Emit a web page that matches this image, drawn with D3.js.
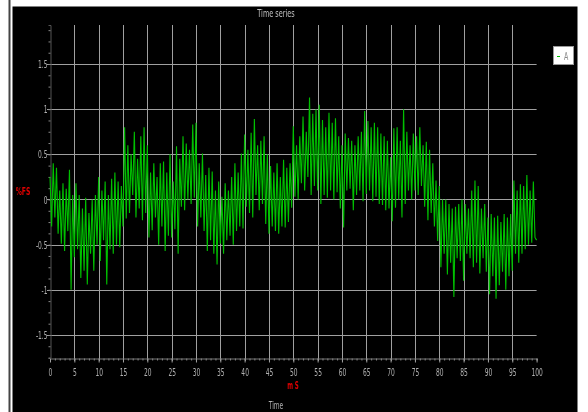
<!DOCTYPE html>
<html><head><meta charset="utf-8">
<script src="https://cdn.jsdelivr.net/npm/d3@7/dist/d3.min.js"></script>
<style>
html,body{margin:0;padding:0;background:#fff;}
svg{display:block;}
text{font-family:"Liberation Sans Narrow","DejaVu Sans Condensed","Arial Narrow",sans-serif;}
</style></head>
<body>
<svg id="chart" width="588" height="412"></svg>
<script>
// ---- data ----
const title = "Time series";
const seriesName = "A";
const xLabel = "Time";
const xUnit = "m S";
const yUnit = "%FS";
const xTicks = [0,5,10,15,20,25,30,35,40,45,50,55,60,65,70,75,80,85,90,95,100];
const yTicks = [-1.5,-1,-0.5,0,0.5,1,1.5];
const sampleStep = 1/3; // time between samples (ms)
// one row per ms: three samples each
const values = [
 0.25,-0.3,0.4,   -0.2,0.35,-0.38,   0.1,-0.49,0.18,   -0.57,0.12,-0.35,   0.33,-1.0,0.05,
 -0.64,0.18,-0.55, 0.05,-0.87,-0.1,  -0.79,0.02,-0.94,  -0.15,-0.6,0.0,    -0.79,0.05,-0.5,
 0.25,-0.68,0.1,  -0.45,0.2,-0.94,   0.05,-0.55,0.23,   -0.6,0.3,-0.5,     0.2,-0.53,0.15,
 -0.3,0.8,-0.21,  0.6,-0.15,0.5,     0.05,0.75,-0.2,    0.45,-0.1,0.7,     -0.23,0.8,-0.15,
 0.6,-0.42,0.3,   -0.34,0.4,-0.2,    0.25,-0.5,0.4,     -0.3,0.42,-0.57,   0.3,-0.4,0.5,
 -0.42,0.2,-0.33, 0.59,-0.6,0.45,    -0.08,0.7,-0.12,   0.62,0.0,0.55,     -0.05,0.83,0.02,
 0.85,-0.3,0.4,   -0.2,0.51,-0.35,   0.27,-0.57,0.35,   -0.45,0.31,-0.6,   0.1,-0.72,0.2,
 -0.49,0.03,-0.6, 0.18,-0.45,0.1,    -0.4,0.25,-0.5,    0.4,-0.35,0.3,     -0.3,0.51,-0.32,
 0.72,-0.08,0.55, -0.15,0.74,-0.2,   0.89,0.05,0.6,     -0.12,0.65,-0.05,  0.7,-0.27,0.5,
 -0.38,0.37,-0.3, 0.3,-0.35,0.4,     -0.38,0.25,-0.3,   0.44,-0.31,0.35,   -0.25,0.4,-0.09,
 0.81,0.03,0.6,   0.0,0.7,0.18,      0.92,0.1,0.75,     0.25,1.13,0.05,    0.95,0.15,1.0,
 0.1,1.05,-0.05,  0.88,0.05,0.8,     0.02,0.96,0.1,     0.85,0.0,0.9,      0.08,0.7,-0.1,
 0.6,-0.31,0.73,  0.1,0.68,0.12,     0.65,-0.12,0.6,    0.05,0.7,0.1,      0.75,-0.02,0.98,
 0.06,0.87,0.1,   0.8,-0.02,0.85,    0.03,0.8,-0.05,    0.73,-0.06,0.7,    -0.12,0.65,-0.1,
 0.47,-0.24,0.79, -0.09,0.8,0.0,     0.65,-0.2,1.0,     -0.05,0.75,0.1,    0.6,0.0,0.73,
 0.1,0.7,0.05,    0.8,0.15,0.6,      -0.08,0.64,-0.23,  0.55,-0.15,0.4,    -0.3,0.21,-0.46,
 0.15,-0.75,0.0,  -0.6,0.0,-0.83,    -0.05,-0.7,-0.1,   -1.08,-0.08,-0.65, -0.05,-0.68,0.0,
 -0.9,-0.05,-0.6, -0.1,-0.65,0.1,    -0.75,0.21,-0.7,   0.15,-0.82,-0.1,   -0.65,-0.05,-0.8,
 -0.2,-1.05,-0.16,-0.85,-0.2,-1.1,   -0.18,-0.95,-0.25, -0.8,-0.16,-1.0,   -0.2,-0.85,-0.16,
 -0.79,0.21,-0.6, 0.1,-0.7,0.17,     -0.6,0.15,-0.55,   0.27,-0.5,0.1,     -0.48,0.2,-0.42,
 -0.45
];

// ---- drawing ----
const svg = d3.select("#chart");
const defs = svg.append("defs");
const flt = defs.append("filter").attr("id","flat").attr("x","-20%").attr("y","-20%").attr("width","140%").attr("height","140%");
flt.append("feOffset").attr("dx",0).attr("dy",0);

svg.append("rect").attr("x",12.5).attr("y",6.5).attr("width",565).attr("height",406).attr("fill","#000");
svg.append("line").attr("x1",9.5).attr("x2",9.5).attr("y1",0).attr("y2",412).attr("stroke","#444").attr("stroke-width",2);

const x = d3.scaleLinear().domain([0,100]).range([50,536.6]);
const y = d3.scaleLinear().domain([-1.755,1.932]).range([358,25]);
const r = v => Math.round(v)+0.5;

// horizontal squeeze for narrow-looking text
function squeeze(sel, sx){
  sel.each(function(){
    const t = d3.select(this);
    const xx = +t.attr("x") || 0;
    t.attr("transform", `translate(${xx},0) scale(${sx},1)`).attr("x",0);
  });
}

const grid = svg.append("g");
grid.selectAll("line.v").data(xTicks.filter(d=>d>0 && d<100)).join("line")
  .attr("x1",d=>r(x(d))).attr("x2",d=>r(x(d))).attr("y1",25).attr("y2",361)
  .attr("stroke","#a0a0a0").attr("stroke-width",1);
grid.selectAll("line.h").data(yTicks).join("line")
  .attr("x1",47).attr("x2",536.6).attr("y1",d=>r(y(d))).attr("y2",d=>r(y(d)))
  .attr("stroke","#a0a0a0").attr("stroke-width",1);

// axes (minor ticks)
const xAxis = d3.axisBottom(x).tickValues(d3.range(0,101,1)).tickSize(2).tickFormat("");
const gx = svg.append("g").attr("transform",`translate(0,${r(358)})`).call(xAxis);
gx.select(".domain").attr("stroke","#777");
gx.selectAll(".tick line").attr("stroke","#888");
const xAxisMajor = d3.axisBottom(x).tickValues(xTicks).tickSize(4).tickFormat(d=>d3.format("")(d));
const gxm = svg.append("g").attr("transform",`translate(0,${r(358)})`).attr("filter","url(#flat)").call(xAxisMajor);
gxm.select(".domain").remove();
gxm.selectAll(".tick line").attr("stroke","#a0a0a0");
gxm.selectAll(".tick text").attr("fill","#b0b0b0").attr("font-size",11).attr("dy","0.71em").attr("y",10)
  .call(squeeze,0.6);

const yAxis = d3.axisLeft(y).tickValues(d3.range(-1.75,1.94,0.125)).tickSize(2).tickFormat("");
const gy = svg.append("g").attr("transform",`translate(${r(50)},0)`).call(yAxis);
gy.select(".domain").attr("stroke","#555");
gy.selectAll(".tick line").attr("stroke","#888");
const yAxisMajor = d3.axisLeft(y).tickValues(yTicks).tickSize(0).tickPadding(3).tickFormat(d=>d3.format("")(d).replace("−","-"));
const gym = svg.append("g").attr("transform",`translate(${r(50)},0)`).attr("filter","url(#flat)").call(yAxisMajor);
gym.select(".domain").remove();
gym.selectAll(".tick text").attr("fill","#b0b0b0").attr("font-size",11).call(squeeze,0.6);

// series
const pts = values.map((v,i)=>[i*sampleStep, v]);
svg.append("path").datum(pts)
  .attr("fill","none").attr("stroke","#00c000").attr("stroke-width",1.1)
  .attr("d", d3.line().x(d=>x(d[0])).y(d=>y(d[1])));

// texts
const tg = svg.append("g").attr("filter","url(#flat)");
tg.append("text").attr("x",276).attr("y",17).attr("text-anchor","middle")
  .attr("fill","#c0c0c0").attr("font-size",11).text(title).call(squeeze,0.66);
tg.append("text").attr("x",23).attr("y",195).attr("text-anchor","middle")
  .attr("fill","#e00000").attr("font-size",10).attr("font-weight","bold").text(yUnit).call(squeeze,0.68);
tg.append("text").attr("x",293).attr("y",389).attr("text-anchor","middle")
  .attr("fill","#e00000").attr("font-size",10).attr("font-weight","bold").text(xUnit).call(squeeze,0.62);
tg.append("text").attr("x",276).attr("y",409).attr("text-anchor","middle")
  .attr("fill","#b0b0b0").attr("font-size",11).text(xLabel).call(squeeze,0.6);

// legend
const lg = svg.append("g").attr("filter","url(#flat)");
lg.append("rect").attr("x",553.5).attr("y",46.5).attr("width",20).attr("height",18)
  .attr("fill","#fff").attr("stroke","#999");
lg.append("line").attr("x1",557).attr("x2",560).attr("y1",56.5).attr("y2",56.5).attr("stroke","#00c000").attr("stroke-width",1);
lg.append("text").attr("x",564).attr("y",60).attr("fill","#888").attr("font-size",10).text(seriesName).call(squeeze,0.7);
</script>
</body></html>
